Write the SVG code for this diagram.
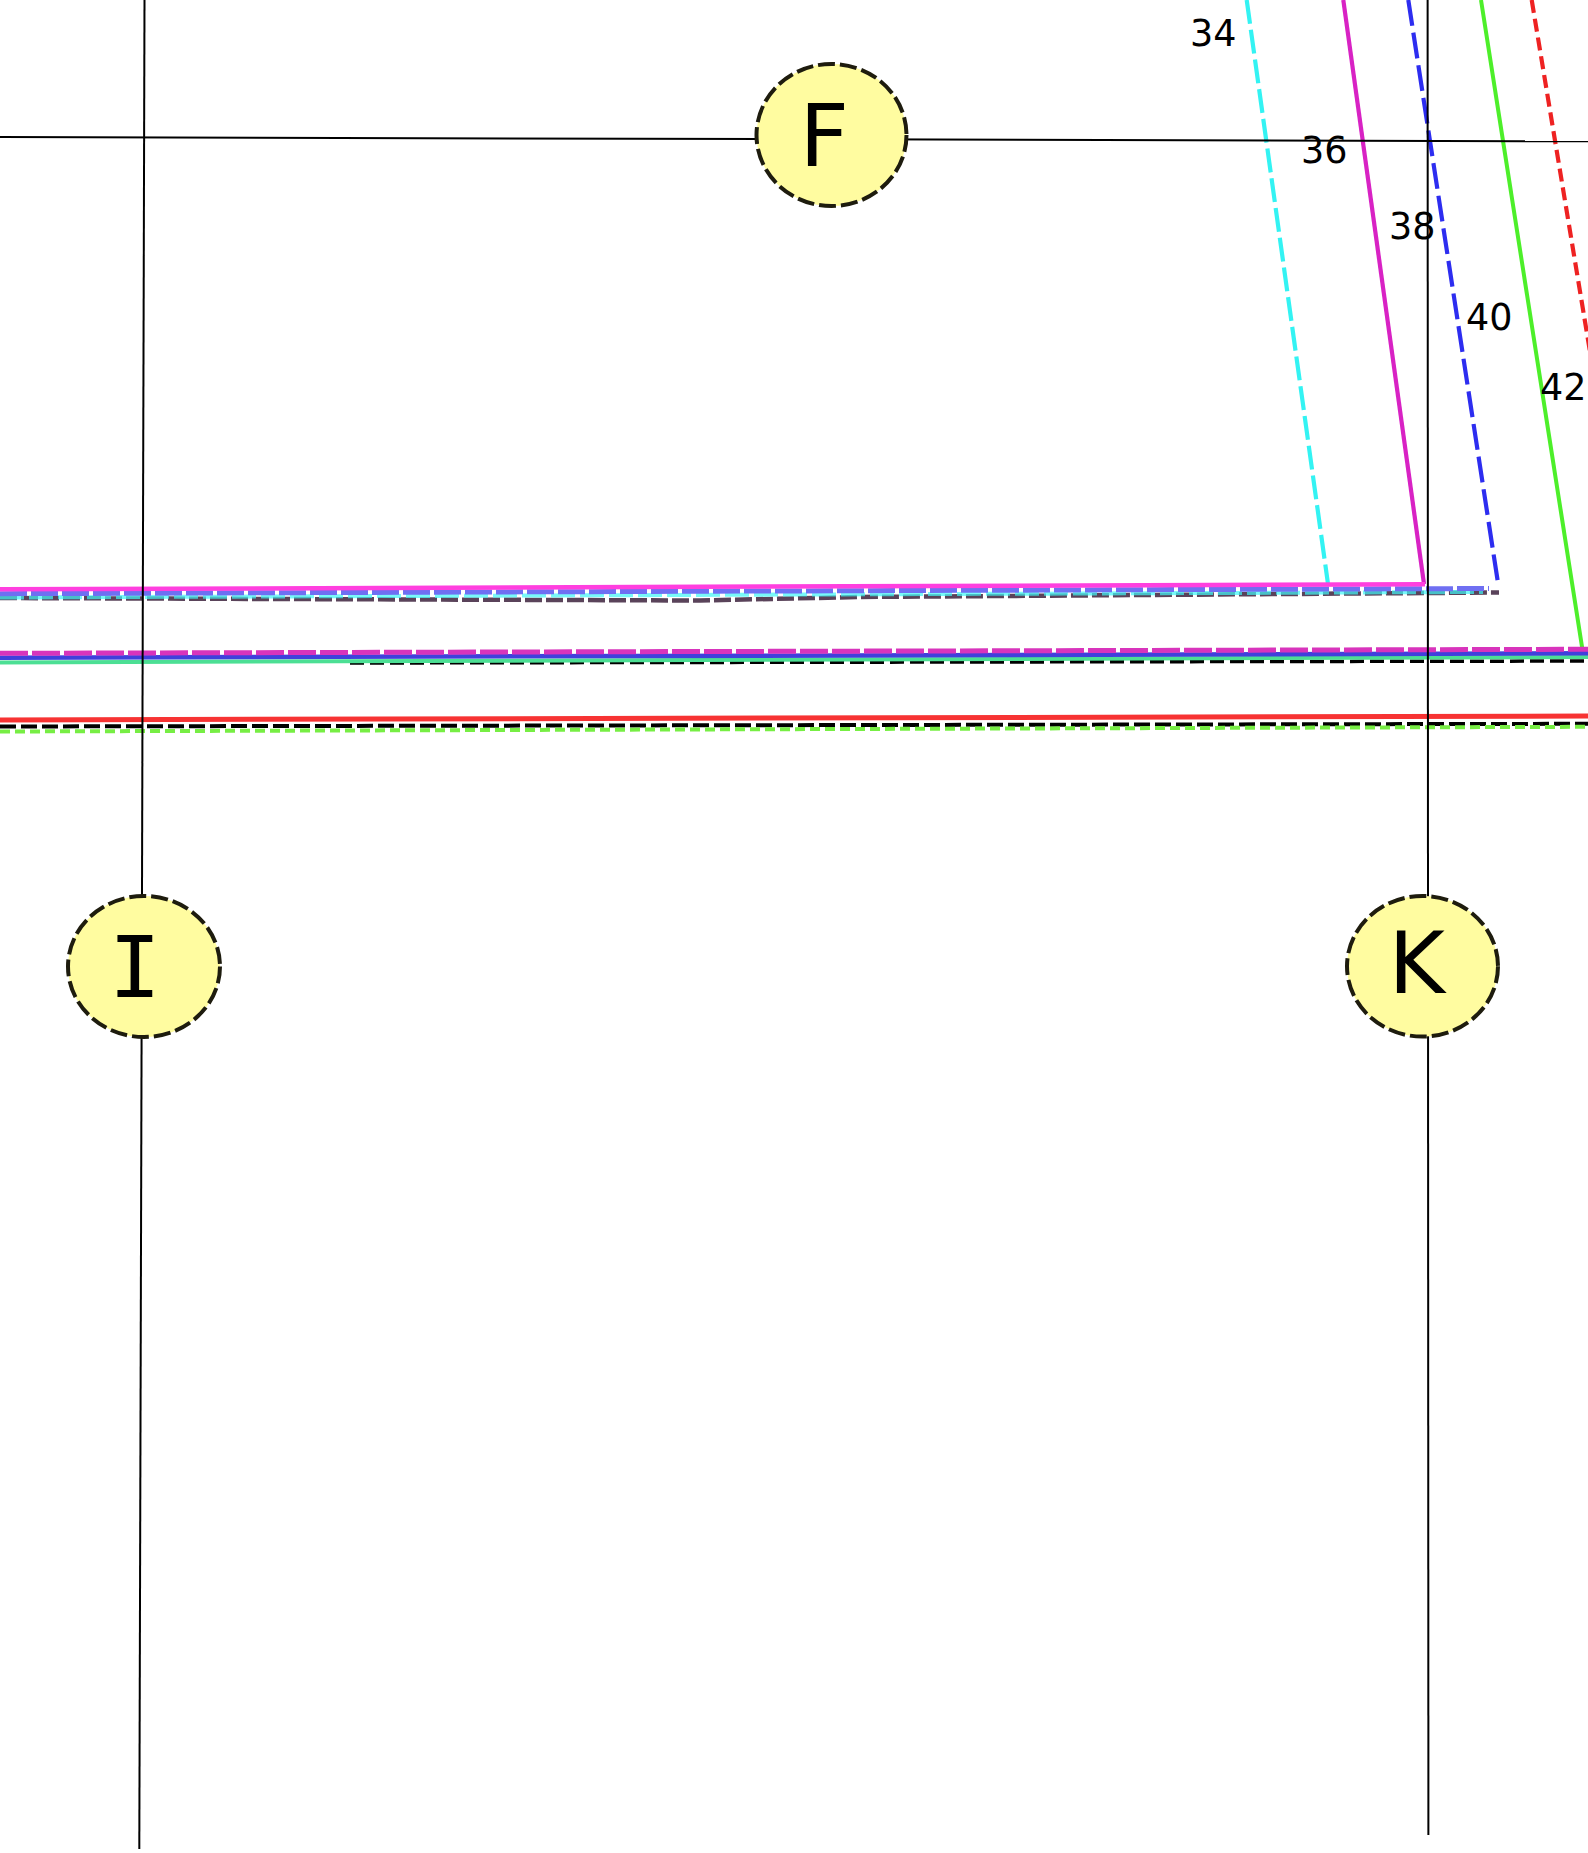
<svg xmlns="http://www.w3.org/2000/svg" width="1588" height="1853" viewBox="0 0 1588 1853">
<style>
.bg{fill:#ffffff}
.axis{stroke:#000;stroke-width:2;fill:none}
.c{fill:none;stroke-linecap:butt}
.node ellipse{fill:#fffca0;stroke:#1e1c0e;stroke-width:4;stroke-dasharray:17 5}
.nl{font-family:"DejaVu Sans",sans-serif;font-size:86px;fill:#000}
.nm{font-family:"DejaVu Sans Mono",monospace;font-size:86px;fill:#000}
.lbl{font-family:"DejaVu Sans",sans-serif;font-size:36.5px;fill:#000}
</style>
<rect class="bg" x="0" y="0" width="1588" height="1853"/>
<g id="connectors">
  <!-- slanted lines -->
  <line class="c" x1="1246.7" y1="0" x2="1328" y2="584" stroke="#33f3f3" stroke-width="4.2" stroke-dasharray="24 6"/>
  <line class="c" x1="1343.3" y1="0" x2="1424" y2="584" stroke="#d822c4" stroke-width="4.2"/>
  <line class="c" x1="1408.3" y1="0" x2="1498" y2="583" stroke="#2d2df0" stroke-width="4.2" stroke-dasharray="26 7"/>
  <line class="c" x1="1481" y1="0" x2="1582.5" y2="650" stroke="#4def2a" stroke-width="4"/>
  <line class="c" x1="1531.7" y1="0" x2="1598" y2="400" stroke="#ee2222" stroke-width="4.2" stroke-dasharray="13 6"/>
  <!-- bundle 1 -->
  <polyline class="c" points="0,598 700,600.5 860,597 1499,592.5" stroke="#5a435a" stroke-width="4.5" stroke-dasharray="17 4"/>
  <line class="c" x1="0" y1="597.5" x2="1483" y2="592" stroke="#3ff6f6" stroke-opacity="0.7" stroke-width="4" stroke-dasharray="24 5"/>
  <line class="c" x1="0" y1="593.7" x2="1489" y2="588.5" stroke="#6f6ff2" stroke-width="5" stroke-dasharray="27 4"/>
  <line class="c" x1="0" y1="589.3" x2="1425" y2="584.2" stroke="#ff3fdf" stroke-width="4.5"/>
  <!-- bundle 2 -->
  <line class="c" x1="350" y1="663" x2="1588" y2="661" stroke="#000" stroke-width="3.5" stroke-dasharray="14 6"/>
  <line class="c" x1="0" y1="662.5" x2="1588" y2="657" stroke="#4cdf94" stroke-width="4"/>
  <line class="c" x1="0" y1="657.8" x2="1588" y2="653.3" stroke="#4040dc" stroke-width="4.5"/>
  <line class="c" x1="0" y1="653.3" x2="1588" y2="649.3" stroke="#d834bc" stroke-width="5" stroke-dasharray="28 4"/>
  <!-- bundle 3 -->
  <line class="c" x1="0" y1="720" x2="1588" y2="716" stroke="#f73333" stroke-width="5"/>
  <line class="c" x1="0" y1="726.5" x2="1588" y2="723.8" stroke="#000" stroke-width="4" stroke-dasharray="16 5"/>
  <line class="c" x1="0" y1="731.5" x2="1588" y2="726.8" stroke="#77ee44" stroke-width="4" stroke-dasharray="10 5"/>
  <!-- axes -->
  <line class="axis" x1="0" y1="137" x2="1588" y2="141.3"/>
  <line class="axis" x1="144.5" y1="0" x2="139.3" y2="1849"/>
  <line class="axis" x1="1427.6" y1="0" x2="1428.4" y2="1835"/>
</g>
<g id="labels">
  <text class="lbl" x="1190" y="46">34</text>
  <text class="lbl" x="1301" y="163">36</text>
  <text class="lbl" x="1389" y="239">38</text>
  <text class="lbl" x="1466" y="330">40</text>
  <text class="lbl" x="1540" y="400">42</text>
</g>
<g id="F" class="node">
  <ellipse cx="831.5" cy="135" rx="75" ry="71"/>
  <text class="nl" x="799.6" y="166">F</text>
</g>
<g id="I" class="node">
  <ellipse cx="144" cy="966.5" rx="76" ry="70.5"/>
  <text class="nm" x="135" y="997" text-anchor="middle">I</text>
</g>
<g id="K" class="node">
  <ellipse cx="1422.5" cy="966.3" rx="75.5" ry="70.3"/>
  <text class="nl" x="1388.6" y="993">K</text>
</g>
</svg>
